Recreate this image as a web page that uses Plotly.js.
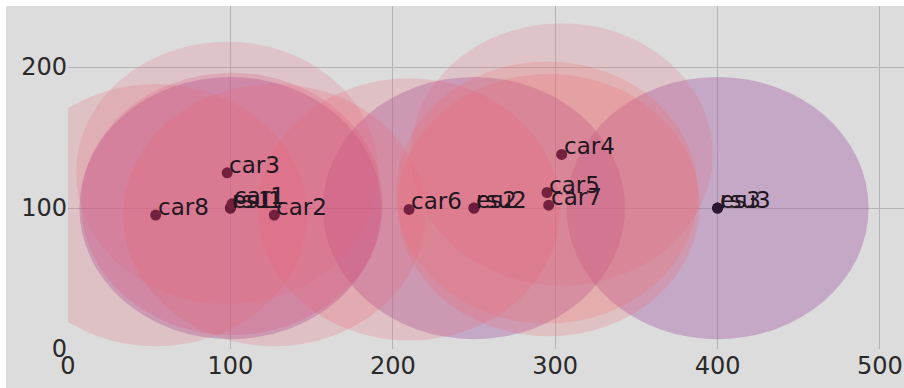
<!DOCTYPE html>
<html>
<head>
<meta charset="utf-8">
<script src="https://cdn.plot.ly/plotly-3.0.1.min.js"></script>
<style>
html, body { margin: 0; padding: 0; background: #ffffff; }
#chart { position: absolute; left: 6px; top: 6px; width: 898px; height: 382px; }
</style>
</head>
<body>
<div id="chart"></div>
<script>
// Node data
const nodeNames = ['es1', 'es2', 'es3', 'rsu1', 'rsu2', 'rsu3',
                   'car1', 'car2', 'car3', 'car4', 'car5', 'car6', 'car7', 'car8'];
const nodeX = [100, 250, 400, 100, 250, 400,
               101, 127, 98, 304, 295, 210, 296, 54];
const nodeY = [100, 100, 100, 100, 100, 100,
               103, 95, 125, 138, 111, 99, 102, 95];
const coverRadius = [93, 93, 93, 93, 93, 93,
                     93, 93, 93, 93, 93, 93, 93, 93];
const circleColors = [
  'rgba(160,85,160,0.21)', 'rgba(160,85,160,0.21)', 'rgba(160,85,160,0.21)',
  'rgba(160,85,160,0.21)', 'rgba(160,85,160,0.21)', 'rgba(160,85,160,0.21)',
  'rgba(218,72,120,0.22)', 'rgba(236,96,112,0.22)', 'rgba(228,100,125,0.2)',
  'rgba(228,100,125,0.2)', 'rgba(242,108,100,0.22)', 'rgba(236,96,112,0.22)',
  'rgba(240,100,108,0.22)', 'rgba(230,100,115,0.22)'
];
const pointColors = [
  '#6a1d3c', '#6a1d3c', '#2b1830', '#6a1d3c', '#6a1d3c', '#2b1830',
  '#74203f', '#74203f', '#74203f', '#74203f', '#74203f', '#74203f', '#74203f', '#74203f'
];
const xTickVals = [0, 100, 200, 300, 400, 500];
const yTickVals = [0, 100, 200];

const shapes = nodeNames.map((n, i) => ({
  type: 'circle',
  xref: 'x', yref: 'y',
  x0: nodeX[i] - coverRadius[i], x1: nodeX[i] + coverRadius[i],
  y0: nodeY[i] - coverRadius[i], y1: nodeY[i] + coverRadius[i],
  fillcolor: circleColors[i],
  line: { width: 0 },
  layer: 'between'
}));

const labels = nodeNames.map((n, i) => ({
  x: nodeX[i], y: nodeY[i], xref: 'x', yref: 'y',
  text: n, showarrow: false,
  xanchor: 'left', yanchor: 'bottom',
  xshift: 0, yshift: -7,
  font: { family: 'DejaVu Sans', size: 23, color: '#221620' }
}));

const trace = {
  type: 'scatter',
  mode: 'markers',
  x: nodeX,
  y: nodeY,
  marker: { size: 11, color: pointColors, line: { width: 0 } },
  cliponaxis: false,
  hoverinfo: 'none'
};

const axisFont = { family: 'DejaVu Sans', size: 24, color: '#2a2a2a' };

const layout = {
  width: 898,
  height: 382,
  margin: { l: 62, r: 0, t: 0, b: 39 },
  paper_bgcolor: '#dcdcdc',
  plot_bgcolor: '#dcdcdc',
  showlegend: false,
  xaxis: {
    range: [0, 514.8],
    tickvals: xTickVals,
    ticktext: xTickVals.map(String),
    showgrid: true,
    gridcolor: '#b4b4b4',
    gridwidth: 1,
    zeroline: false,
    showline: false,
    ticks: '',
    tickfont: axisFont
  },
  yaxis: {
    range: [0, 243.3],
    tickvals: yTickVals,
    ticktext: yTickVals.map(String),
    showgrid: true,
    gridcolor: '#b4b4b4',
    gridwidth: 1,
    zeroline: false,
    showline: false,
    ticks: '',
    tickfont: axisFont
  },
  shapes: shapes,
  annotations: labels
};

Plotly.newPlot('chart', [trace], layout, { displayModeBar: false, staticPlot: true });
</script>
</body>
</html>
